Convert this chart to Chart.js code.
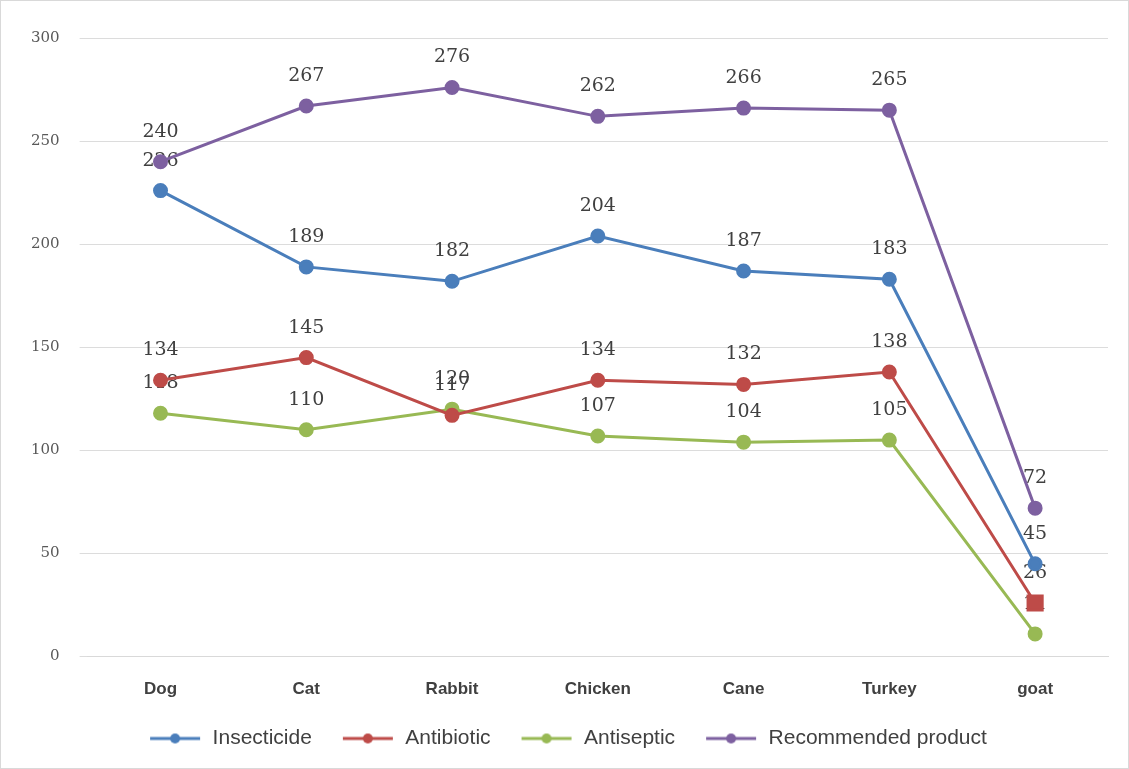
<!DOCTYPE html>
<html>
<head>
<meta charset="utf-8">
<script src="https://cdn.jsdelivr.net/npm/chart.js@4/dist/chart.umd.min.js"></script>
<style>
  html, body { margin: 0; padding: 0; background: #fff; }
  #wrap { width: 1127px; height: 767px; border: 1px solid #d9d9d9; }
</style>
</head>
<body>
<div id="wrap"><canvas id="grafico" width="1127" height="767"></canvas></div>
<script>
const categorias = ["Dog", "Cat", "Rabbit", "Chicken", "Cane", "Turkey", "goat"];
const inseticida = [226, 189, 182, 204, 187, 183, 45];
const antibiotico = [134, 145, 117, 134, 132, 138, 26];
const antisseptico = [118, 110, 120, 107, 104, 105, 11];
const recomendado = [240, 267, 276, 262, 266, 265, 72];
const ticksY = [0, 50, 100, 150, 200, 250, 300];

const cores = {
  inseticida: "#4A7EBB",
  antibiotico: "#BE4B48",
  antisseptico: "#98B954",
  recomendado: "#7D60A0"
};

// ícone da legenda: linha com marcador, margem maior à esquerda
function iconeLegenda(cor) {
  const c = document.createElement("canvas");
  c.width = 70;
  c.height = 14;
  const ctx = c.getContext("2d");
  ctx.strokeStyle = cor;
  ctx.lineWidth = 3;
  ctx.beginPath();
  ctx.moveTo(18, 7);
  ctx.lineTo(68, 7);
  ctx.stroke();
  ctx.fillStyle = cor;
  ctx.beginPath();
  ctx.arc(43, 7, 5, 0, Math.PI * 2);
  ctx.fill();
  return c;
}

function serie(label, dados, cor, estilos, raios) {
  return {
    label: label,
    data: dados,
    borderColor: cor,
    backgroundColor: cor,
    borderWidth: 3,
    pointRadius: raios || 6,
    pointHoverRadius: raios || 6,
    pointStyle: estilos || "circle",
    tension: 0,
    icone: iconeLegenda(cor)
  };
}

// rótulos de valor desenhados por baixo das linhas
const rotulos = {
  id: "rotulos",
  beforeDatasetsDraw(chart) {
    const ctx = chart.ctx;
    ctx.save();
    ctx.font = "19px 'DejaVu Serif', 'Liberation Serif', serif";
    ctx.fillStyle = "#404040";
    ctx.textAlign = "center";
    ctx.textBaseline = "middle";
    chart.data.datasets.forEach((ds, i) => {
      const meta = chart.getDatasetMeta(i);
      meta.data.forEach((p, j) => {
        ctx.fillText(String(ds.data[j]), p.x, p.y - 30);
      });
    });
    ctx.restore();
  }
};

new Chart(document.getElementById("grafico"), {
  type: "line",
  data: {
    labels: categorias,
    datasets: [
      serie("Insecticide", inseticida, cores.inseticida),
      serie("Antibiotic", antibiotico, cores.antibiotico,
        ["circle", "circle", "circle", "circle", "circle", "circle", "rect"],
        [6, 6, 6, 6, 6, 6, 10]),
      serie("Antiseptic", antisseptico, cores.antisseptico),
      serie("Recommended product", recomendado, cores.recomendado)
    ]
  },
  options: {
    responsive: false,
    animation: false,
    layout: {
      padding: { top: 37, right: 20, left: 10, bottom: 9 }
    },
    plugins: {
      tooltip: { enabled: false },
      legend: {
        position: "bottom",
        labels: {
          usePointStyle: true,
          pointStyleWidth: 70,
          boxHeight: 14,
          font: { family: "'Liberation Sans', sans-serif", size: 21 },
          color: "#404040",
          padding: 13,
          generateLabels(chart) {
            return chart.data.datasets.map((ds, i) => ({
              text: ds.label,
              fillStyle: ds.borderColor,
              strokeStyle: ds.borderColor,
              pointStyle: ds.icone,
              fontColor: "#404040",
              datasetIndex: i,
              hidden: false
            }));
          }
        }
      }
    },
    scales: {
      x: {
        offset: true,
        grid: { display: false },
        border: { display: true, color: "#d9d9d9" },
        ticks: {
          color: "#404040",
          padding: 15,
          font: { family: "'Liberation Sans', sans-serif", size: 17, weight: "bold" }
        }
      },
      y: {
        min: 0,
        max: 300,
        afterBuildTicks(axis) {
          axis.ticks = ticksY.map(v => ({ value: v }));
        },
        border: { display: false },
        grid: { color: "#dcdcdc", lineWidth: 1, tickLength: 8 },
        ticks: {
          color: "#595959",
          padding: 20,
          font: { family: "'DejaVu Serif', serif", size: 15 }
        }
      }
    }
  },
  plugins: [rotulos]
});
</script>
</body>
</html>
